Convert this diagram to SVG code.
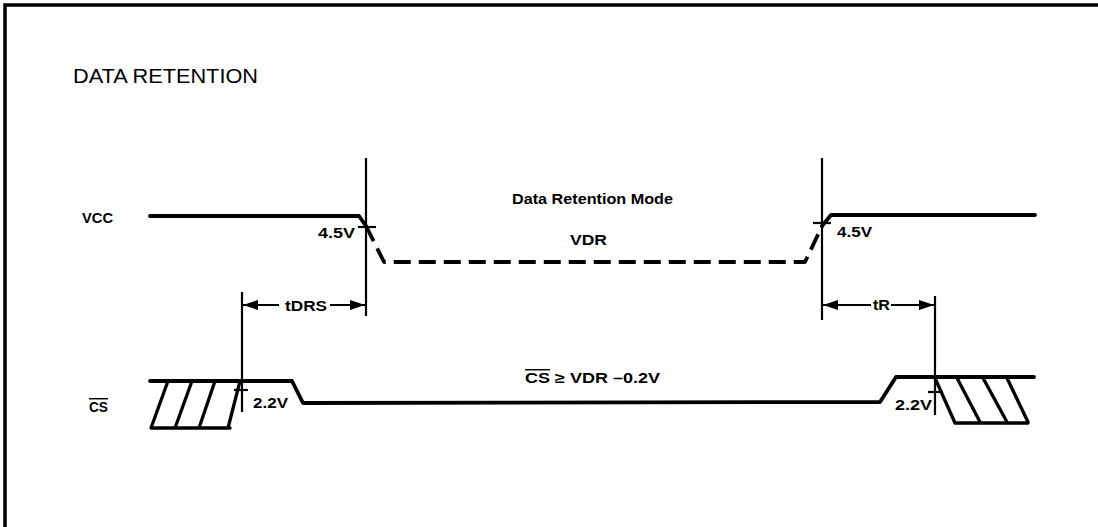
<svg xmlns="http://www.w3.org/2000/svg" width="1098" height="527" viewBox="0 0 1098 527">
<style>
  .sig { fill: none; stroke: #000; stroke-width: 3.8; stroke-linejoin: round; stroke-linecap: round; }
  .dash { fill: none; stroke: #000; stroke-width: 3.8; stroke-dasharray: 17 8; stroke-linejoin: round; }
  .ref { fill: none; stroke: #000; stroke-width: 2.2; }
  .hatch { fill: none; stroke: #000; stroke-width: 3.3; stroke-linecap: round; stroke-linejoin: round; }
  .lbl { font-family: "Liberation Sans", Arial, sans-serif; font-weight: bold; font-size: 14.5px; fill: #000; }
  .title { font-family: "Liberation Sans", Arial, sans-serif; font-size: 21px; fill: #000; }
</style>
<defs>
  <marker id="arr" markerUnits="userSpaceOnUse" markerWidth="16" markerHeight="10" refX="15" refY="5" orient="auto">
    <path d="M0,0 L15,5 L0,10 Z" fill="#000"/>
  </marker>
</defs>
<rect width="1098" height="527" fill="#fff"/>
<g id="frame">
  <path d="M5,527 L5,5 L1098,5" fill="none" stroke="#000" stroke-width="3.5"/>
</g>
<text class="title" x="73" y="83" textLength="185" lengthAdjust="spacingAndGlyphs">DATA RETENTION</text>

<g id="vcc">
  <text class="lbl" x="82" y="223" textLength="31" lengthAdjust="spacingAndGlyphs">VCC</text>
  <path class="sig" d="M150,216 L359,216 L366,226"/>
  <path class="dash" d="M366,226 L384,262 L805,262 L822,226"/>
  <path class="sig" d="M822,226 L831,215 L1035,215"/>
  <line class="ref" x1="358" y1="227" x2="376" y2="227"/>
  <line class="ref" x1="813" y1="223" x2="831" y2="223"/>
  <text class="lbl" x="318" y="238" textLength="37" lengthAdjust="spacingAndGlyphs">4.5V</text>
  <text class="lbl" x="837" y="237" textLength="35" lengthAdjust="spacingAndGlyphs">4.5V</text>
  <text class="lbl" x="512" y="204" textLength="161" lengthAdjust="spacingAndGlyphs">Data Retention Mode</text>
  <text class="lbl" x="570" y="245" textLength="37" lengthAdjust="spacingAndGlyphs" font-size="16">VDR</text>
</g>

<g id="cs">
  <text class="lbl" x="89" y="412" textLength="19" lengthAdjust="spacingAndGlyphs"><tspan style="text-decoration: overline">CS</tspan></text>
  <path class="sig" d="M150,381 L292,381 L303,403 L880,402 L896,377 L1034,377"/>
  <path class="hatch" d="M168,381 L151,428 L230,428 M192,381 L175,428 M215,381 L199,428 M240,381 L228,428"/>
  <path class="hatch" d="M935,378 L955,423 L1028,423 M957,378 L980,422 M983,378 L1007,422 M1007,378 L1028,422"/>
  <line class="ref" x1="234" y1="390" x2="248" y2="390"/>
  <line class="ref" x1="928" y1="392" x2="943" y2="392"/>
  <text class="lbl" x="253" y="408" textLength="35" lengthAdjust="spacingAndGlyphs">2.2V</text>
  <text class="lbl" x="895" y="410" textLength="37" lengthAdjust="spacingAndGlyphs">2.2V</text>
  <text class="lbl" x="525" y="383" textLength="135" lengthAdjust="spacingAndGlyphs"><tspan style="text-decoration: overline">CS</tspan> ≥ VDR –0.2V</text>
</g>

<g id="connectors">
  <line class="ref" x1="366" y1="158" x2="366" y2="316"/>
  <line class="ref" x1="822" y1="158" x2="822" y2="320"/>
  <line class="ref" x1="242" y1="292" x2="242" y2="412"/>
  <line class="ref" x1="935" y1="296" x2="935" y2="415"/>
  <line class="ref" x1="279" y1="305" x2="243" y2="305" marker-end="url(#arr)"/>
  <line class="ref" x1="330" y1="305" x2="365" y2="305" marker-end="url(#arr)"/>
  <line class="ref" x1="871" y1="305" x2="823" y2="305" marker-end="url(#arr)"/>
  <line class="ref" x1="891" y1="305" x2="934" y2="305" marker-end="url(#arr)"/>
  <text class="lbl" x="285" y="311" textLength="42" lengthAdjust="spacingAndGlyphs">tDRS</text>
  <text class="lbl" x="873" y="310" textLength="17" lengthAdjust="spacingAndGlyphs">tR</text>
</g>
</svg>
